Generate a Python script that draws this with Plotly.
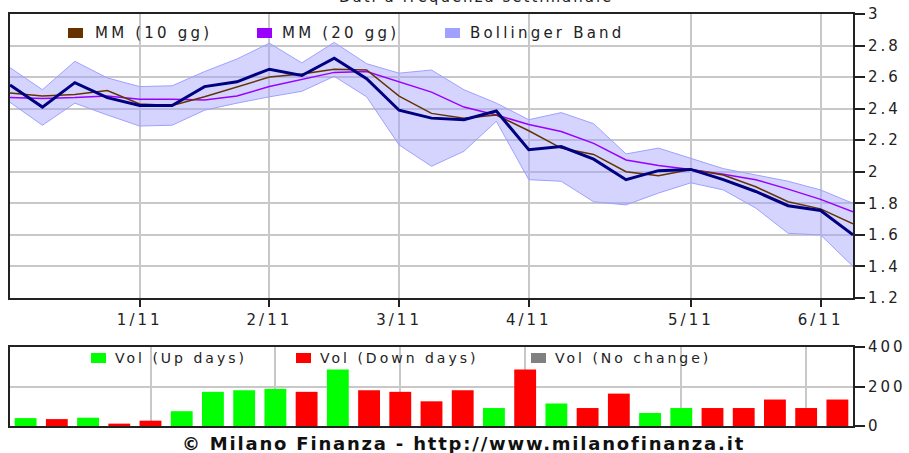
import plotly.graph_objects as go

# ---------------- data ----------------
week_index = list(range(27))
price = [2.55, 2.41, 2.565, 2.47, 2.42, 2.42, 2.54, 2.57, 2.65, 2.61, 2.72, 2.59, 2.39, 2.34,
         2.33, 2.385, 2.14, 2.16, 2.08, 1.95, 2.007, 2.015, 1.95, 1.875, 1.785, 1.755, 1.60]
mm10 = [2.50, 2.48, 2.49, 2.515, 2.43, 2.42, 2.475, 2.54, 2.60, 2.62, 2.65, 2.645, 2.48, 2.37,
        2.34, 2.36, 2.26, 2.15, 2.11, 2.00, 1.975, 2.015, 1.98, 1.905, 1.81, 1.765, 1.67]
mm20 = [2.47, 2.465, 2.47, 2.48, 2.46, 2.46, 2.455, 2.48, 2.54, 2.585, 2.63, 2.635, 2.57, 2.505,
        2.41, 2.36, 2.30, 2.255, 2.18, 2.075, 2.04, 2.015, 1.985, 1.95, 1.89, 1.825, 1.747]
boll_upper = [2.66, 2.52, 2.70, 2.595, 2.54, 2.545, 2.635, 2.715, 2.815, 2.69, 2.82, 2.685, 2.625, 2.645,
              2.52, 2.435, 2.33, 2.375, 2.305, 2.113, 2.15, 2.085, 2.02, 1.98, 1.94, 1.885, 1.80]
boll_lower = [2.44, 2.295, 2.435, 2.36, 2.29, 2.295, 2.39, 2.435, 2.475, 2.51, 2.605, 2.475, 2.17, 2.035,
              2.13, 2.32, 1.95, 1.94, 1.81, 1.79, 1.865, 1.93, 1.885, 1.77, 1.61, 1.60, 1.40]
volume = [40, 35, 42, 12, 27, 75, 173, 181, 188, 173, 286, 181, 173, 125,
          181, 91, 286, 114, 91, 164, 66, 91, 91, 91, 134, 91, 134]
direction = ["up", "down", "up", "down", "down", "up", "up", "up", "up", "down", "up", "down", "down", "down",
             "down", "up", "down", "up", "down", "down", "up", "up", "down", "down", "down", "down", "down"]
month_ticks = [4, 8, 12, 16, 21, 25]
month_labels = ["1/11", "2/11", "3/11", "4/11", "5/11", "6/11"]
price_ticks = [1.2, 1.4, 1.6, 1.8, 2, 2.2, 2.4, 2.6, 2.8, 3]
price_tick_labels = ["1.2", "1.4", "1.6", "1.8", "2", "2.2", "2.4", "2.6", "2.8", "3"]
vol_ticks = [0, 200, 400]
vol_tick_labels = ["0", "200", "400"]

# ---------------- geometry helpers ----------------
W, H = 909, 453
L, R, T, B = 10, 56, 14, 27
PW, PH = W - L - R, H - T - B


def px(x):
    return (x - L) / PW


def py(y):
    return (H - B - y) / PH


def sp(text, ls=3):
    return '<span style="letter-spacing:%spx">%s</span>' % (ls, text)


FONT = "DejaVu Sans, Verdana, sans-serif"

fig = go.Figure()

# Bollinger band
fig.add_trace(go.Scatter(x=week_index, y=boll_upper, mode="lines",
                         line=dict(color="#a0a0ff", width=1), xaxis="x", yaxis="y",
                         showlegend=False, hoverinfo="skip"))
fig.add_trace(go.Scatter(x=week_index, y=boll_lower, mode="lines", fill="tonexty",
                         fillcolor="rgba(160,160,255,0.45)",
                         line=dict(color="#a0a0ff", width=1), xaxis="x", yaxis="y",
                         showlegend=False, hoverinfo="skip"))
fig.add_trace(go.Scatter(x=week_index, y=mm20, mode="lines",
                         line=dict(color="#9900ff", width=1.5), xaxis="x", yaxis="y", showlegend=False))
fig.add_trace(go.Scatter(x=week_index, y=mm10, mode="lines",
                         line=dict(color="#663300", width=1.5), xaxis="x", yaxis="y", showlegend=False))
fig.add_trace(go.Scatter(x=week_index, y=price, mode="lines",
                         line=dict(color="#000080", width=3), xaxis="x", yaxis="y", showlegend=False))

# Volume bars
up_vals = [v if d == "up" else None for v, d in zip(volume, direction)]
down_vals = [v if d == "down" else None for v, d in zip(volume, direction)]
flat_vals = [v if d == "flat" else None for v, d in zip(volume, direction)]
fig.add_trace(go.Bar(x=week_index, y=up_vals, marker=dict(color="#00ff00", line=dict(width=0)),
                     xaxis="x2", yaxis="y2", showlegend=False))
fig.add_trace(go.Bar(x=week_index, y=down_vals, marker=dict(color="#ff0000", line=dict(width=0)),
                     xaxis="x2", yaxis="y2", showlegend=False))
fig.add_trace(go.Bar(x=week_index, y=flat_vals, marker=dict(color="#808080", line=dict(width=0)),
                     xaxis="x2", yaxis="y2", showlegend=False))

top_dom = [py(298), 1]
vol_dom = [0, py(347)]

axis_common = dict(showline=True, mirror=True, linecolor="#222222", linewidth=2,
                    gridcolor="#c8c8c8", gridwidth=1.5, zeroline=False, fixedrange=True,
                    automargin=False)

fig.update_layout(
    width=W, height=H,
    margin=dict(l=L, r=R, t=T, b=B, autoexpand=False),
    paper_bgcolor="white", plot_bgcolor="white",
    barmode="overlay", bargap=0.3,
    showlegend=False,
    font=dict(family=FONT, size=15, color="#222222"),
    xaxis=dict(domain=[0, 1], range=[0, 26], anchor="y",
               tickmode="array", tickvals=month_ticks, ticktext=[sp(t) for t in month_labels],
               ticks="outside", ticklen=7, tickwidth=2, tickcolor="#222222",
               tickfont=dict(size=15), **axis_common),
    yaxis=dict(domain=top_dom, range=[1.2, 3], anchor="x", side="right",
               tickmode="array", tickvals=price_ticks, ticktext=[sp(t) for t in price_tick_labels],
               ticks="outside", ticklen=10, tickwidth=2, tickcolor="#222222",
               tickfont=dict(size=15), **axis_common),
    xaxis2=dict(domain=[0, 1], range=[-0.5, 26.5], anchor="y2",
                tickmode="array", tickvals=month_ticks, showticklabels=False, ticks="",
                **axis_common),
    yaxis2=dict(domain=vol_dom, range=[0, 400], anchor="x2", side="right",
                tickmode="array", tickvals=vol_ticks, ticktext=[sp(t) for t in vol_tick_labels],
                ticks="outside", ticklen=10, tickwidth=2, tickcolor="#222222",
                tickfont=dict(size=15), **axis_common),
)

annotations = []
shapes = []

# partially clipped title at the very top (as in the source image)
annotations.append(dict(text=sp("Dati a frequenza settimanale", 2), xref="paper", yref="paper",
                        x=px(476), y=py(8), xanchor="center", yanchor="bottom", showarrow=False,
                        font=dict(size=15, color="#222222")))

# top legend
top_legend = [("MM (10 gg)", "#663300", 68, 93), ("MM (20 gg)", "#9900ff", 257, 280),
              ("Bollinger Band", "#a0a0ff", 445, 468)]
for name, col, sx, tx in top_legend:
    shapes.append(dict(type="rect", xref="paper", yref="paper", x0=px(sx), x1=px(sx + 15),
                       y0=py(38), y1=py(28), fillcolor=col, line=dict(width=0)))
    annotations.append(dict(text=sp(name, 3.2), xref="paper", yref="paper", x=px(tx), y=py(33),
                            xanchor="left", yanchor="middle", showarrow=False,
                            font=dict(size=15, color="#222222")))

# volume legend
vol_legend = [("Vol (Up days)", "#00ff00", 91, 113), ("Vol (Down days)", "#ff0000", 296, 318),
              ("Vol (No change)", "#808080", 531, 553)]
for name, col, sx, tx in vol_legend:
    shapes.append(dict(type="rect", xref="paper", yref="paper", x0=px(sx), x1=px(sx + 15),
                       y0=py(363), y1=py(353), fillcolor=col, line=dict(width=0)))
    annotations.append(dict(text=sp(name, 3), xref="paper", yref="paper", x=px(tx), y=py(358),
                            xanchor="left", yanchor="middle", showarrow=False,
                            font=dict(size=14, color="#222222")))

# footer
annotations.append(dict(text="<b>" + sp("© Milano Finanza - http://www.milanofinanza.it", 1.8) + "</b>",
                        xref="paper", yref="paper", x=px(463), y=py(443),
                        xanchor="center", yanchor="middle", showarrow=False,
                        font=dict(family="DejaVu Sans, Verdana, sans-serif", size=18, color="#111111")))

fig.update_layout(annotations=annotations, shapes=shapes)

fig.write_html("out.html", config={"displayModeBar": False},
               post_script="document.body.style.margin='0';document.body.style.overflow='hidden';")
